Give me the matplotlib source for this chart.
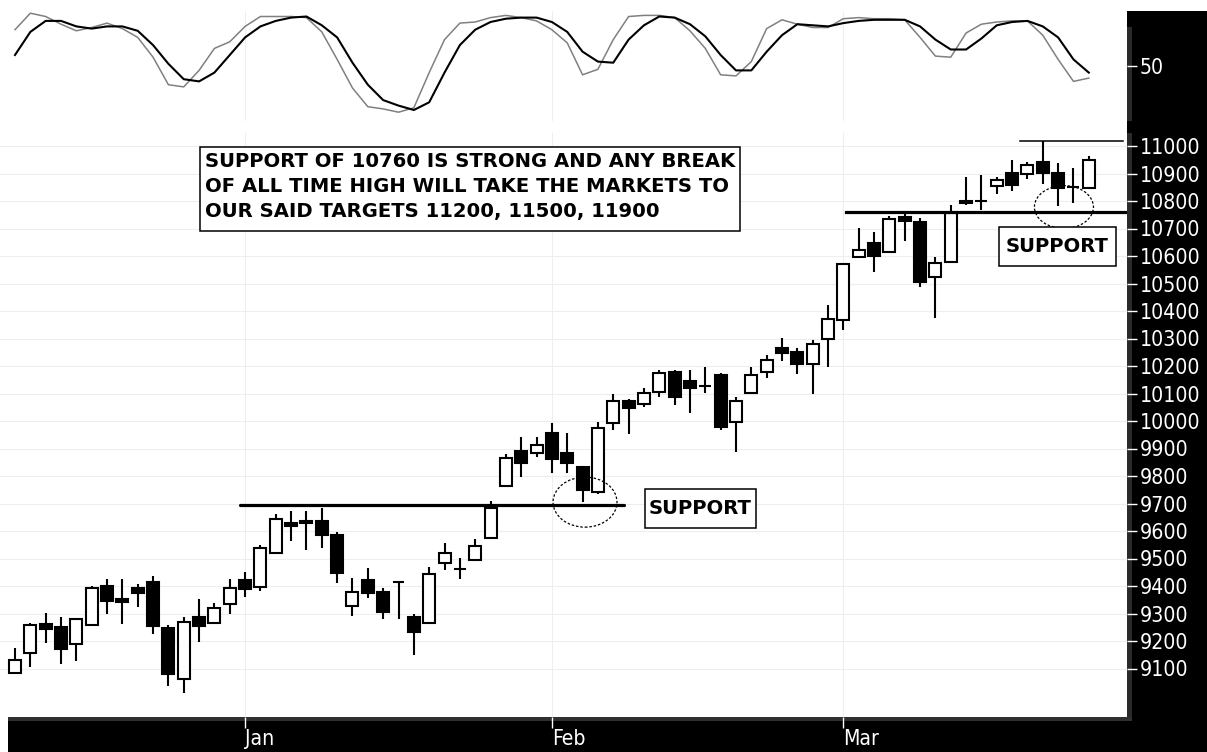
import matplotlib
matplotlib.use('Agg')
import matplotlib.pyplot as plt
from matplotlib import font_manager
from matplotlib.font_manager import FontProperties
from matplotlib.textpath import TextPath
from matplotlib.patches import Rectangle, Ellipse

# candles (one per trading day)
opens = [9084, 9156, 9262, 9251, 9189, 9258, 9400, 9353, 9393, 9415,
         9247, 9062, 9287, 9265, 9335, 9422, 9396, 9520, 9629, 9636,
         9636, 9585, 9327, 9422, 9378, 9415, 9287, 9265, 9484, 9462,
         9495, 9575, 9764, 9891, 9884, 9956, 9884, 9833, 9742, 9993,
         10073, 10062, 10105, 10178, 10145, 10127, 10167, 9996, 10102, 10178,
         10265, 10251, 10207, 10298, 10367, 10596, 10647, 10615, 10742, 10724,
         10524, 10578, 10800, 10800, 10855, 10902, 10898, 10942, 10902, 10851,
         10847]
highs = [9175, 9265, 9302, 9287, 9285, 9400, 9425, 9425, 9407, 9436,
         9258, 9287, 9353, 9338, 9425, 9451, 9549, 9662, 9673, 9673,
         9684, 9596, 9429, 9465, 9393, 9415, 9298, 9469, 9556, 9502,
         9571, 9709, 9880, 9942, 9942, 9993, 9956, 9836, 9996, 10098,
         10080, 10120, 10185, 10185, 10185, 10196, 10175, 10087, 10196, 10240,
         10302, 10265, 10295, 10422, 10575, 10702, 10687, 10745, 10756, 10738,
         10596, 10785, 10887, 10895, 10887, 10949, 10942, 11018, 10938, 10920,
         10964]
lows = [9080, 9105, 9193, 9116, 9127, 9255, 9298, 9262, 9324, 9225,
        9036, 9011, 9196, 9262, 9298, 9360, 9382, 9515, 9564, 9531,
        9538, 9411, 9291, 9356, 9280, 9280, 9149, 9262, 9458, 9425,
        9493, 9573, 9762, 9796, 9869, 9811, 9811, 9705, 9735, 9967,
        9953, 10051, 10087, 10058, 10029, 10102, 9967, 9887, 10098, 10156,
        10218, 10171, 10098, 10196, 10331, 10593, 10542, 10611, 10655, 10487,
        10375, 10575, 10785, 10767, 10825, 10836, 10880, 10862, 10782, 10793,
        10845]
closes = [9131, 9258, 9244, 9171, 9280, 9393, 9345, 9342, 9375, 9255,
          9080, 9269, 9255, 9320, 9393, 9389, 9538, 9644, 9618, 9629,
          9585, 9447, 9378, 9375, 9305, 9415, 9233, 9444, 9520, 9462,
          9545, 9684, 9865, 9847, 9913, 9862, 9847, 9749, 9975, 10073,
          10047, 10102, 10175, 10087, 10120, 10127, 9978, 10073, 10167, 10222,
          10247, 10207, 10280, 10371, 10571, 10622, 10600, 10735, 10727, 10505,
          10575, 10756, 10793, 10800, 10876, 10858, 10931, 10902, 10847, 10851,
          10949]

# stochastic oscillator, fast (grey) and slow (black)
stoch_k = [83, 98, 95, 88, 82, 85, 89, 84, 76, 58,
           33, 31, 46, 66, 72, 86, 95, 95, 95, 94,
           81, 56, 30, 13, 11, 8, 12, 44, 74, 89,
           90, 94, 96, 94, 91, 83, 71, 42, 47, 74,
           95, 96, 96, 94, 82, 66, 42, 41, 54, 84,
           92, 88, 85, 85, 93, 94, 93, 93, 92, 76,
           59, 58, 80, 88, 90, 91, 91, 78, 56, 36,
           39]
stoch_d = [60, 81, 91, 91, 86, 84, 86, 86, 82, 69,
           52, 38, 36, 44, 60, 76, 86, 91, 94, 95,
           87, 76, 53, 33, 19, 14, 10, 17, 44, 69,
           83, 90, 93, 94, 94, 90, 81, 63, 54, 53,
           74, 87, 95, 94, 88, 77, 60, 46, 46, 63,
           78, 88, 87, 86, 89, 91, 92, 92, 92, 86,
           74, 65, 65, 75, 87, 90, 91, 86, 76, 56,
           44]

month_idx = [15, 35, 54]
month_names = ['Jan', 'Feb', 'Mar']
price_ticks = [9100, 9200, 9300, 9400, 9500, 9600, 9700, 9800, 9900, 10000,
               10100, 10200, 10300, 10400, 10500, 10600, 10700, 10800, 10900, 11000]

W, H = 1207, 752


def px_rect(x0, y0, x1, y1):
    return [x0 / W, 1 - y1 / H, (x1 - x0) / W, (y1 - y0) / H]


# pick a narrow font for the axis labels if one is installed
axis_fp = None
for f in font_manager.fontManager.ttflist:
    if f.style != 'normal' or f.weight not in (400, 'normal', 'regular'):
        continue
    if f.name in ('Liberation Sans Narrow', 'Arial Narrow', 'Roboto Condensed',
                  'Open Sans Condensed') or (
            f.name in ('DejaVu Sans', 'Noto Sans', 'Roboto', 'Open Sans')
            and f.stretch in ('condensed', 'semi-condensed')):
        axis_fp = FontProperties(fname=f.fname)
        break
if axis_fp is None:
    axis_fp = FontProperties(family='DejaVu Sans')
w100 = TextPath((0, 0), '11000', size=100, prop=axis_fp).get_extents().width
axis_size = min(17.5, 100 * (57 * 0.72) / w100)
axis_fp.set_size(axis_size)

fig = plt.figure(figsize=(W / 100, H / 100), dpi=100, facecolor='white')

# black frame on the right and bottom
fig.add_artist(Rectangle((1127 / W, 0), 80 / W, 1 - 11 / H, transform=fig.transFigure,
                         facecolor='black', edgecolor='none', zorder=-2))
fig.add_artist(Rectangle((8 / W, 0), 1 - 8 / W, 34 / H, transform=fig.transFigure,
                         facecolor='black', edgecolor='none', zorder=-2))
fig.add_artist(Rectangle((8 / W, 31 / H), 1124 / W, 4 / H, transform=fig.transFigure,
                         facecolor='#303030', edgecolor='none', zorder=-1))
fig.add_artist(Rectangle((1127 / W, 35 / H), 5 / W, 584 / H, transform=fig.transFigure,
                         facecolor='#2a2a2a', edgecolor='none', zorder=-1))
fig.add_artist(Rectangle((1127 / W, 631 / H), 5 / W, 94 / H, transform=fig.transFigure,
                         facecolor='#2a2a2a', edgecolor='none', zorder=-1))

x_lim = (-15 / 15.34, (1127 - 15) / 15.34)

# ---- price panel
ax = fig.add_axes(px_rect(0, 133, 1127, 717))
ax.set_xlim(*x_lim)
ax.set_ylim(11000 - (717 - 146) / 0.275, 11000 + 13 / 0.275)
for s in ax.spines.values():
    s.set_visible(False)
ax.grid(True, color='#eeeeee', lw=0.8, zorder=0)
ax.set_axisbelow(True)

bw = 0.78
for i, (o, h, l, c) in enumerate(zip(opens, highs, lows, closes)):
    ax.vlines(i, l, h, color='black', lw=1.5, zorder=2)
    if o == c:
        ax.hlines(o, i - bw / 2, i + bw / 2, color='black', lw=1.5, zorder=3)
    else:
        fc = 'white' if c > o else 'black'
        ax.add_patch(Rectangle((i - bw / 2, min(o, c)), bw, abs(c - o), facecolor=fc,
                               edgecolor='black', lw=1.5, zorder=3))

# support / resistance lines
ax.plot([14.67, 39.7], [9695, 9695], color='black', lw=2.3, solid_capstyle='round', zorder=4)
ax.plot([54.2, 72.4], [10760, 10760], color='black', lw=2.3, zorder=4)
ax.plot([65.5, 72.2], [11018, 11018], color='black', lw=1.1, zorder=4)

ax.add_patch(Ellipse((37.16, 9705), 4.17, 182, fill=False, edgecolor='black',
                     lw=0.9, ls=(0, (2, 1.5)), zorder=5))
ax.add_patch(Ellipse((68.38, 10778), 3.85, 156, fill=False, edgecolor='black',
                     lw=0.9, ls=(0, (2, 1.5)), zorder=5))

# annotations
note_font = dict(family='DejaVu Sans', weight='bold', fontsize=14.1, color='black', zorder=6)
ax.add_patch(Rectangle((12.06, 10691), 35.2, 305.5, facecolor='white', edgecolor='black',
                       lw=1.1, zorder=5))
ax.text(12.39, 10942, 'SUPPORT OF 10760 IS STRONG AND ANY BREAK', va='center', ha='left', **note_font)
ax.text(12.39, 10851, 'OF ALL TIME HIGH WILL TAKE THE MARKETS TO', va='center', ha='left', **note_font)
ax.text(12.39, 10760, 'OUR SAID TARGETS 11200, 11500, 11900', va='center', ha='left', **note_font)

ax.add_patch(Rectangle((41.07, 9611), 7.24, 141.8, facecolor='white', edgecolor='black',
                       lw=1.1, zorder=5))
ax.text(44.69, 9682, 'SUPPORT', va='center', ha='center', **note_font)
ax.add_patch(Rectangle((64.15, 10563.6), 7.62, 141.9, facecolor='white', edgecolor='black',
                       lw=1.1, zorder=5))
ax.text(67.96, 10634.5, 'SUPPORT', va='center', ha='center', **note_font)

ax.yaxis.tick_right()
ax.set_yticks(price_ticks)
ax.set_yticklabels([str(v) for v in price_ticks], fontproperties=axis_fp)
ax.tick_params(axis='y', direction='out', length=7, width=1, colors='white', pad=2)
ax.set_xticks(month_idx)
ax.set_xticklabels(month_names, ha='left', fontproperties=axis_fp)
ax.tick_params(axis='x', direction='out', length=8, width=1, colors='white', pad=0.5)

# ---- stochastic panel
ax2 = fig.add_axes(px_rect(0, 11, 1127, 121))
ax2.set_xlim(*x_lim)
ax2.set_ylim(0, 100)
for s in ax2.spines.values():
    s.set_visible(False)
ax2.grid(True, axis='x', color='#eeeeee', lw=0.8, zorder=0)
ax2.set_axisbelow(True)
days = list(range(len(stoch_k)))
ax2.plot(days, stoch_k, color='#808080', lw=1.1, zorder=2)
ax2.plot(days, stoch_d, color='black', lw=1.5, zorder=3)
ax2.set_xticks(month_idx)
ax2.set_xticklabels([])
ax2.tick_params(axis='x', length=0)
ax2.yaxis.tick_right()
ax2.set_yticks([50])
ax2.set_yticklabels(['50'], fontproperties=axis_fp)
ax2.tick_params(axis='y', direction='out', length=7, width=1, colors='white', pad=2)

fig.savefig('out.png', dpi=100, facecolor='white')
